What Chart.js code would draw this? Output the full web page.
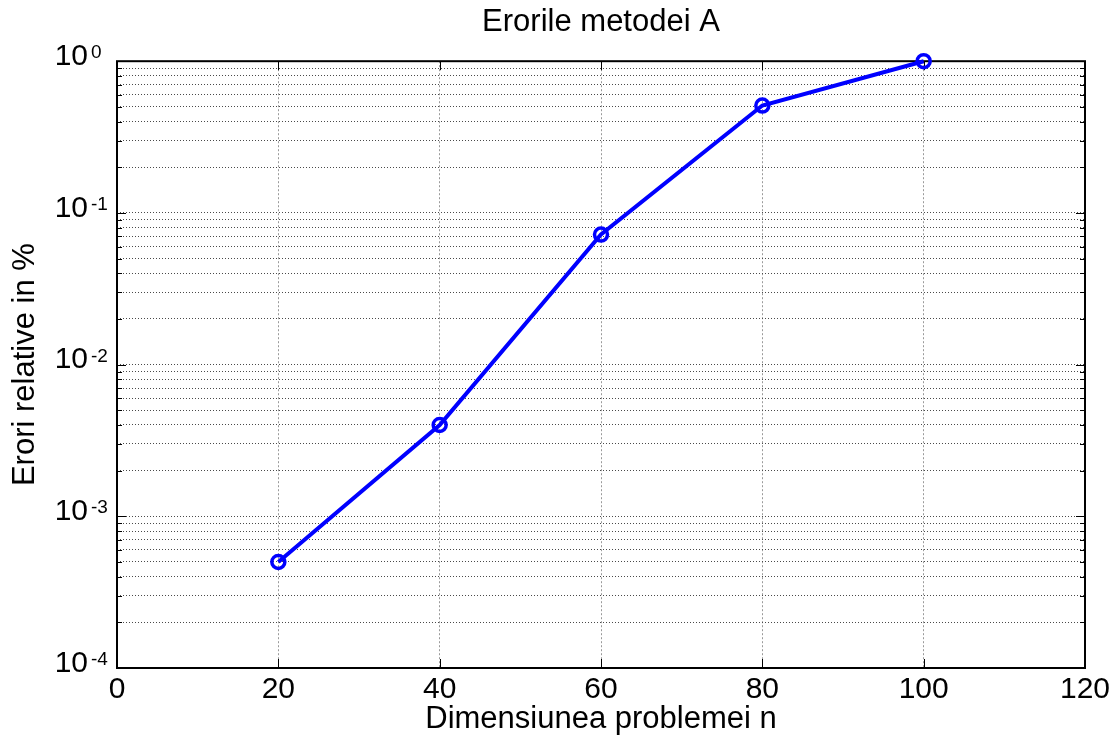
<!DOCTYPE html>
<html><head><meta charset="utf-8">
<script src="https://cdn.jsdelivr.net/npm/chart.js@4.4.1/dist/chart.umd.min.js"></script>
<style>html,body{margin:0;padding:0;background:#fff}#wrap{width:1112px;height:740px}</style>
</head><body><div id="wrap"><canvas id="c" width="1112" height="740"></canvas></div>
<script>
// ---- data ----
const problemSizes = [20, 40, 60, 80, 100];
const relativeErrors = [0.0005, 0.004, 0.072, 0.51, 1.0];
const xTickValues = [0, 20, 40, 60, 80, 100, 120];
const yDecades = [1e-4, 1e-3, 1e-2, 1e-1, 1];
const yExponents = ['-4', '-3', '-2', '-1', '0'];
const minorMultipliers = [1, 2, 3, 4, 5, 6, 7, 8, 9];
const chartTitle = 'Erorile metodei A';
const xTitle = 'Dimensiunea problemei n';
const yTitle = 'Erori relative in %';

const FONT = "'Liberation Sans', Arial, Helvetica, sans-serif";

const yTickValues = [];
yDecades.forEach((d, i) => {
  if (i === yDecades.length - 1) { yTickValues.push(d); return; }
  minorMultipliers.forEach(m => yTickValues.push(+(d * m).toPrecision(6)));
});
const isDecade = v => yDecades.some(d => Math.abs(v / d - 1) < 1e-9);

const framePlugin = {
  id: 'frame',
  beforeDatasetsDraw(chart) {
    const {ctx, chartArea: a, scales: {x, y}} = chart;
    ctx.save();
    ctx.strokeStyle = '#000';
    ctx.lineWidth = 1;
    ctx.beginPath();
    xTickValues.forEach(v => {
      const px = Math.round(x.getPixelForValue(v)) + 0.5;
      ctx.moveTo(px, a.bottom); ctx.lineTo(px, a.bottom - 9);
      ctx.moveTo(px, a.top); ctx.lineTo(px, a.top + 9);
    });
    yTickValues.forEach(v => {
      const py = Math.round(y.getPixelForValue(v)) + 0.5;
      const len = isDecade(v) ? 9 : 5;
      ctx.moveTo(a.left, py); ctx.lineTo(a.left + len, py);
      ctx.moveTo(a.right, py); ctx.lineTo(a.right - len, py);
    });
    ctx.stroke();
    ctx.lineWidth = 2;
    ctx.strokeRect(a.left, a.top, a.right - a.left, a.bottom - a.top);
    ctx.restore();
  },
  afterDraw(chart) {
    const {ctx, scales: {y}} = chart;
    ctx.save();
    ctx.fillStyle = '#000';
    ctx.font = '19px ' + FONT;
    ctx.textAlign = 'left';
    ctx.textBaseline = 'alphabetic';
    yDecades.forEach((d, i) => {
      const py = y.getPixelForValue(d);
      ctx.fillText(yExponents[i], 91, py - 3);
    });
    ctx.restore();
  }
};

new Chart(document.getElementById('c'), {
  type: 'line',
  data: {
    datasets: [{
      data: problemSizes.map((n, i) => ({x: n, y: relativeErrors[i]})),
      borderColor: '#0000ff',
      borderWidth: 4,
      pointRadius: 6.5,
      pointHoverRadius: 6.5,
      pointBorderWidth: 3.5,
      pointBorderColor: '#0000ff',
      pointBackgroundColor: 'rgba(0,0,0,0)',
      fill: false,
      tension: 0,
      clip: false
    }]
  },
  options: {
    responsive: false,
    animation: false,
    devicePixelRatio: 1,
    layout: {padding: {left: 0, right: 27, top: 0, bottom: 0}},
    plugins: {
      legend: {display: false},
      tooltip: {enabled: false},
      title: {
        display: true, text: chartTitle, color: '#000', fullSize: false,
        font: {family: FONT, size: 31, weight: 'normal'},
        padding: {top: 4, bottom: 20}
      }
    },
    scales: {
      x: {
        type: 'linear', min: 0, max: 120,
        afterBuildTicks: s => { s.ticks = xTickValues.map(v => ({value: v})); },
        afterFit: s => { s.height = 72; s.paddingLeft = 0; s.paddingRight = 0; },
        ticks: {color: '#000', font: {family: FONT, size: 30}, padding: 4, maxRotation: 0, autoSkip: false},
        grid: {color: '#9a9a9a', lineWidth: 1, drawTicks: false},
        border: {display: false, dash: [2, 2]},
        title: {display: true, text: xTitle, color: '#000', font: {family: FONT, size: 31}, padding: {top: 0, bottom: 2}}
      },
      y: {
        type: 'logarithmic', min: 1e-4, max: 1,
        afterBuildTicks: s => { s.ticks = yTickValues.map(v => ({value: v})); },
        afterFit: s => { s.width = 117; s.paddingTop = 0; s.paddingBottom = 0; },
        ticks: {
          color: '#000', font: {family: FONT, size: 30}, padding: 29, autoSkip: false,
          labelOffset: -4.5,
          callback: v => isDecade(v) ? '10' : ''
        },
        grid: {color: '#4a4a4a', lineWidth: 1, drawTicks: false},
        border: {display: false, dash: [1, 2]},
        title: {display: true, text: yTitle, color: '#000', font: {family: FONT, size: 31}, padding: {top: 7, bottom: 0}}
      }
    }
  },
  plugins: [framePlugin]
});
</script></body></html>
